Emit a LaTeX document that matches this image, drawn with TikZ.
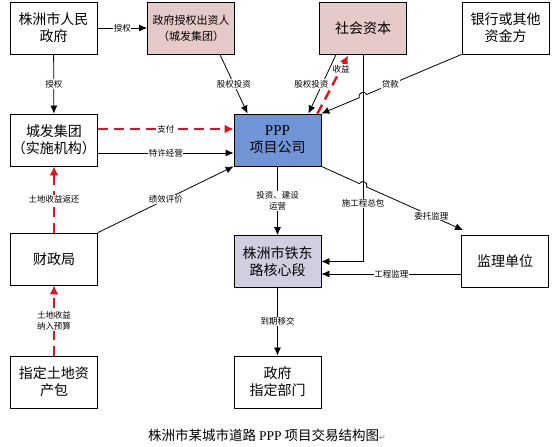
\documentclass[tikz,border=0pt]{standalone}
\usepackage{fontspec}
\setmainfont{Noto Sans CJK SC}
\newfontfamily\serifppp{Liberation Serif}
\newfontfamily\symfont{DejaVu Sans}
\usepackage{tikz}
\usetikzlibrary{arrows.meta,positioning,calc}

\definecolor{pinkc}{HTML}{E6C9C9}
\definecolor{pppblue}{HTML}{6F95D6}
\definecolor{lavc}{HTML}{D2CEE2}
\definecolor{redln}{HTML}{E8101A}

\begin{document}
\begin{tikzpicture}[x=1pt,y=1pt,
    box/.style={draw=black, line width=0.8pt, minimum width=87pt, minimum height=52pt,
      inner sep=1pt, align=center, font=\fontsize{14}{17}\selectfont},
    lbl/.style={fill=white, inner sep=0.6pt, align=center, font=\fontsize{8.5}{11}\selectfont},
    arr/.style={line width=0.8pt, -{Latex[length=8pt,width=7pt]}},
    redarr/.style={draw=redln, line width=2.4pt, dash pattern=on 10pt off 6pt,
      -{Latex[length=9pt,width=9pt]}}]
  \useasboundingbox (0,0) rectangle (552,447);

  % --- top row ---
  \node[box] (gov) at (53.5,419) {株洲市人民\\政府};
  \node[box, fill=pinkc, font=\fontsize{11}{16}\selectfont] (czr) at (191,419) {政府授权出资人\\（城发集团）};
  \node[box, fill=pinkc] (shzb) at (363,419) {社会资本};
  \node[box] (bank) at (505.5,419) {银行或其他\\资金方};

  % --- second row ---
  \node[box] (cfjt) at (54,307) {城发集团\\（实施机构）};
  \node[box, fill=pppblue] (ppp) at (277.5,307) {{\serifppp\fontsize{15}{17}\selectfont PPP}\\项目公司};

  % --- third row ---
  \node[box] (czj) at (54,188) {财政局};
  \node[box, fill=lavc] (tdong) at (277.5,185.5) {株洲市铁东\\路核心段};
  \node[box] (jl) at (505,185.5) {监理单位};

  % --- bottom row ---
  \node[box] (tdb) at (54,65) {指定土地资\\产包};
  \node[box] (zfbm) at (277.5,65) {政府\\指定部门};

  % caption
  \node[font=\fontsize{13.5}{16}\selectfont] (cap) at (267,12)
    {株洲市某城市道路 {\serifppp PPP} 项目交易结构图{\symfont\fontsize{8}{8}\selectfont\color{gray}↵}};

  % hop points
  \coordinate (hopA) at (366.7,352.5);
  \coordinate (hopB) at (359.3,349.3);
  \coordinate (hopC) at (359.4,263.4);
  \coordinate (hopD) at (366.6,260.0);

  % --- connectors ---
  \draw[arr] (gov) -- node[lbl]{授权} (czr);
  \draw[arr] (gov) -- node[lbl]{授权} (cfjt);
  \draw[arr] ($(czr.south east)+(-15,0)$) -- node[lbl]{股权投资} ($(ppp.north west)+(14,0)$);
  \draw[arr] ($(shzb.south west)+(17,0)$) -- node[lbl, xshift=-11pt]{股权投资} ($(ppp.north east)+(-13,0)$);
  \draw[arr] (bank.south west) -- node[lbl, pos=0.75]{贷款} (hopA)
    .. controls (364.7,357.1) and (357.3,353.9) .. (hopB) -- (ppp.north east);
  \draw[arr] (shzb.south) |- node[lbl, pos=0.36]{施工程总包} (tdong.east);
  \draw[redarr] ($(ppp.north east)+(-4,0)$) -- node[lbl, pos=0.77]{收益} ($(shzb.south west)+(29,-1)$);

  \draw[redarr] ($(cfjt.east)+(0,11)$) -- node[lbl]{支付} ($(ppp.west)+(0,11)$);
  \draw[arr] ($(cfjt.east)+(0,-13)$) -- node[lbl]{特许经营} ($(ppp.west)+(0,-13)$);
  \draw[arr] (czj.north east) -- node[lbl]{绩效评价} (ppp.south west);
  \draw[redarr] (czj) -- node[lbl]{土地收益返还} (cfjt);
  \draw[redarr] (tdb) -- node[lbl]{土地收益\\纳入预算} (czj);

  \draw[arr] (ppp) -- node[lbl]{投资、建设\\运营} (tdong);
  \draw[arr] (ppp.south east) -- (hopC)
    .. controls (361.5,267.9) and (368.7,264.5) .. (hopD)
    -- node[lbl, pos=0.67]{委托监理} ($(jl.north west)+(2,5)$);
  \draw[arr] ($(jl.west)+(0,-12.5)$) -- node[lbl]{工程监理} ($(tdong.east)+(0,-12.5)$);
  \draw[arr] (tdong) -- node[lbl]{到期移交} (zfbm);
\end{tikzpicture}
\end{document}
